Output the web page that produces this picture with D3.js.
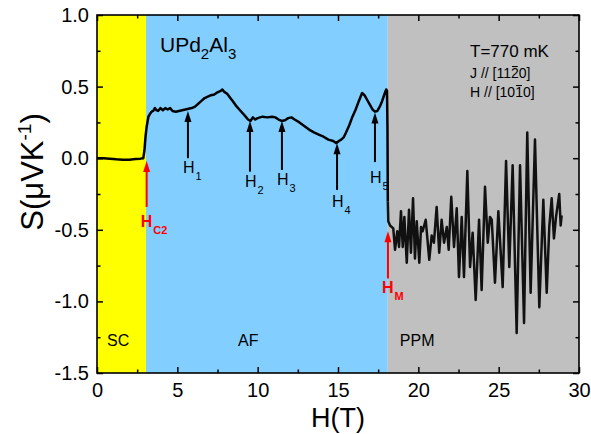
<!DOCTYPE html>
<html>
<head>
<meta charset="utf-8">
<script src="https://cdn.jsdelivr.net/npm/d3@7"></script>
<style>
body { margin: 0; background: #fff; }
text { font-family: Arial, 'Liberation Sans', sans-serif; fill: #000; }
</style>
</head>
<body>
<svg class="chart" width="591" height="434"></svg>
<script>
var width = 591;
var height = 434;
var plotLeft = 97;
var plotRight = 579;
var plotTop = 15;
var plotBottom = 373;

// Phase regions (field ranges in T)
var phaseNames = ['SC', 'AF', 'PPM'];
var phaseStart = [0, 3.05, 18.1];
var phaseEnd = [3.05, 18.1, 30];
var phaseColors = ['#ffff00', '#82cfff', '#c0c0c0'];

// Thermopower S (uV/K) vs field H (T)
var scData = [
    [0, 0.0], [0.4, 0.0], [0.8, -0.004], [1.2, -0.008], [1.6, -0.01], [2.0, -0.01],
    [2.4, -0.006], [2.7, -0.003], [2.88, 0.0], [2.95, 0.05], [3.02, 0.15], [3.09, 0.22]
];
var afData = [
    [3.2, 0.29], [3.3, 0.31], [3.4, 0.325], [3.5, 0.33], [3.6, 0.35], [3.7, 0.335], [3.8, 0.33], [3.95, 0.35],
    [4.1, 0.335], [4.25, 0.35], [4.4, 0.34], [4.55, 0.35], [4.7, 0.33], [4.9, 0.325],
    [5.1, 0.33], [5.3, 0.335], [5.5, 0.34], [5.7, 0.345], [5.9, 0.35], [6.1, 0.36],
    [6.3, 0.38], [6.5, 0.40], [6.7, 0.42], [6.9, 0.43], [7.1, 0.44], [7.3, 0.445],
    [7.5, 0.46], [7.7, 0.47], [7.8, 0.48], [7.9, 0.465], [8.1, 0.45], [8.3, 0.42],
    [8.5, 0.39], [8.7, 0.36], [8.9, 0.335], [9.1, 0.31], [9.25, 0.29], [9.4, 0.27],
    [9.55, 0.26], [9.7, 0.285], [9.85, 0.27], [10.0, 0.28], [10.3, 0.29], [10.6, 0.285],
    [10.9, 0.29], [11.1, 0.285], [11.3, 0.27], [11.5, 0.26], [11.7, 0.265], [11.9, 0.28],
    [12.1, 0.285], [12.3, 0.27], [12.6, 0.25], [12.9, 0.225], [13.2, 0.2], [13.5, 0.18],
    [13.8, 0.165], [14.1, 0.15], [14.4, 0.13], [14.7, 0.12], [14.9, 0.105], [15.05, 0.12],
    [15.2, 0.13], [15.35, 0.145], [15.5, 0.18], [15.7, 0.23], [15.9, 0.29], [16.1, 0.34],
    [16.3, 0.40], [16.5, 0.455], [16.65, 0.44], [16.8, 0.41], [17.0, 0.37], [17.15, 0.34],
    [17.3, 0.325], [17.45, 0.33], [17.6, 0.36], [17.75, 0.40], [17.9, 0.45], [18.0, 0.48],
    [18.05, 0.47], [18.08, 0.2], [18.1, -0.3]
];
var ppmData = [
    [18.13, -0.44], [18.24, -0.47], [18.44, -0.49], [18.55, -0.64], [18.69, -0.51], [18.80, -0.62],
    [18.92, -0.37], [19.03, -0.62], [19.13, -0.41], [19.28, -0.73], [19.42, -0.36], [19.54, -0.66],
    [19.67, -0.28], [19.79, -0.70], [19.90, -0.44], [20.06, -0.73], [20.17, -0.48], [20.27, -0.51],
    [20.46, -0.43], [20.68, -0.71], [20.83, -0.54], [20.97, -0.59], [21.14, -0.34], [21.30, -0.66],
    [21.45, -0.43], [21.60, -0.59], [21.77, -0.48], [21.89, -0.64], [22.05, -0.27], [22.22, -0.62],
    [22.39, -0.35], [22.53, -0.83], [22.70, -0.41], [22.84, -0.83], [23.05, -0.09], [23.22, -0.76],
    [23.38, -0.52], [23.57, -0.99], [23.78, -0.43], [23.94, -0.92], [24.15, -0.20], [24.32, -0.59],
    [24.46, -0.41], [24.57, -0.43], [24.77, -0.87], [24.98, -0.37], [25.25, -0.90], [25.46, -0.02],
    [25.66, -0.76], [25.87, -0.05], [26.12, -1.22], [26.33, -0.05], [26.58, -1.15], [26.78, 0.18],
    [26.99, -0.94], [27.26, 0.13], [27.53, -1.04], [27.78, -0.29], [27.99, -0.94], [28.15, -0.48],
    [28.30, -0.28], [28.44, -0.56], [28.57, -0.41], [28.77, -0.25], [28.86, -0.47], [28.92, -0.40]
];

// Transition markers H1..H5 (field, arrow tip S, arrow tail S, label baseline S)
var markNames = ['1', '2', '3', '4', '5'];
var markField = [5.66, 9.52, 11.51, 14.94, 17.3];
var markTip = [0.33, 0.26, 0.26, 0.105, 0.32];
var markTail = [0.0, -0.094, -0.082, -0.222, -0.027];
var markLabel = [-0.105, -0.199, -0.187, -0.343, -0.175];

// Critical fields Hc2 and Hm (red arrows)
var critNames = ['C2', 'M'];
var critField = [3.09, 18.11];
var critTip = [-0.02, -0.51];
var critTail = [-0.34, -0.84];
var critLabel = [-0.478, -0.943];

var xTicks = [0, 5, 10, 15, 20, 25, 30];
var xMinor = [2.5, 7.5, 12.5, 17.5, 22.5, 27.5];
var yTicks = [-1.5, -1.0, -0.5, 0.0, 0.5, 1.0];
var yMinor = [-1.25, -0.75, -0.25, 0.25, 0.75];

var xScale = d3.scaleLinear().domain([0, 30]).range([plotLeft, plotRight]);
var yScale = d3.scaleLinear().domain([-1.5, 1.0]).range([plotBottom, plotTop]);

var svg = d3.select('.chart');

/* Phase backgrounds */
function drawPhases() {
    var g = svg.append('g');
    g.selectAll('rect')
        .data(phaseNames)
        .join('rect')
        .attr('x', function(d, i) { return xScale(phaseStart[i]); })
        .attr('y', yScale(1.0))
        .attr('width', function(d, i) { return xScale(phaseEnd[i]) - xScale(phaseStart[i]); })
        .attr('height', yScale(-1.5) - yScale(1.0))
        .style('fill', function(d, i) { return phaseColors[i]; });

    g.selectAll('text')
        .data(phaseNames)
        .join('text')
        .attr('x', function(d, i) { return xScale(phaseStart[i]) + [10, 92, 12][i]; })
        .attr('y', yScale(-1.31))
        .style('font-size', '16px')
        .text(function(d) { return d; });
}

/* Axes */
function drawAxes() {
    var fmt = function(d) { return d.toFixed(1); };
    var major = 6, minor = 3.5;

    svg.append('g').attr('transform', 'translate(0,' + plotBottom + ')')
        .call(d3.axisBottom(xScale).tickValues(xTicks).tickSize(-major).tickPadding(10));
    svg.append('g').attr('transform', 'translate(0,' + plotBottom + ')')
        .call(d3.axisBottom(xScale).tickValues(xMinor).tickSize(-minor).tickFormat(''));
    svg.append('g').attr('transform', 'translate(0,' + plotTop + ')')
        .call(d3.axisTop(xScale).tickValues(xTicks).tickSize(-major).tickFormat(''));
    svg.append('g').attr('transform', 'translate(0,' + plotTop + ')')
        .call(d3.axisTop(xScale).tickValues(xMinor).tickSize(-minor).tickFormat(''));

    svg.append('g').attr('transform', 'translate(' + plotLeft + ',0)')
        .call(d3.axisLeft(yScale).tickValues(yTicks).tickSize(-major).tickPadding(8).tickFormat(fmt));
    svg.append('g').attr('transform', 'translate(' + plotLeft + ',0)')
        .call(d3.axisLeft(yScale).tickValues(yMinor).tickSize(-minor).tickFormat(''));
    svg.append('g').attr('transform', 'translate(' + plotRight + ',0)')
        .call(d3.axisRight(yScale).tickValues(yTicks).tickSize(-major).tickFormat(''));
    svg.append('g').attr('transform', 'translate(' + plotRight + ',0)')
        .call(d3.axisRight(yScale).tickValues(yMinor).tickSize(-minor).tickFormat(''));

    svg.selectAll('.domain').remove();
    svg.selectAll('.tick line').style('stroke', '#000').style('stroke-width', 1.5);
    svg.selectAll('.tick text')
        .style('font-size', '20px')
        .style('font-family', "Arial, 'Liberation Sans', sans-serif")
        .style('fill', '#000');

    svg.append('rect')
        .attr('x', plotLeft)
        .attr('y', plotTop)
        .attr('width', plotRight - plotLeft)
        .attr('height', plotBottom - plotTop)
        .style('fill', 'none')
        .style('stroke', '#000')
        .style('stroke-width', 1.6);

    // Axis titles
    svg.append('text')
        .attr('x', (plotLeft + plotRight) / 2)
        .attr('y', 427)
        .style('text-anchor', 'middle')
        .style('font-size', '27px')
        .text('H(T)');

    var yt = svg.append('text')
        .attr('transform', 'translate(43,172) rotate(-90)')
        .style('text-anchor', 'middle')
        .style('font-size', '31px');
    yt.append('tspan').text('S(\u03bcVK');
    yt.append('tspan').attr('dy', -12).style('font-size', '19px').text('-1');
    yt.append('tspan').attr('dy', 12).text(')');
}

/* Curve */
function drawCurve() {
    var line = d3.line()
        .x(function(d) { return xScale(d[0]); })
        .y(function(d) { return yScale(d[1]); });

    svg.append('path')
        .datum(scData.concat(afData))
        .attr('d', line)
        .style('fill', 'none')
        .style('stroke', '#000')
        .style('stroke-width', 2.5)
        .style('stroke-linejoin', 'round');

    svg.append('path')
        .datum(afData.slice(-1).concat(ppmData))
        .attr('d', line)
        .style('fill', 'none')
        .style('stroke', '#111')
        .style('stroke-width', 2.5)
        .style('stroke-linejoin', 'round');
}

/* Arrows */
function arrow(g, h, tipS, tailS, color) {
    var x = xScale(h), yTip = yScale(tipS), yTail = yScale(tailS);
    var headLen = 11, headHalf = 3.5;
    g.append('line')
        .attr('x1', x).attr('x2', x)
        .attr('y1', yTail).attr('y2', yTip + headLen - 1)
        .style('stroke', color)
        .style('stroke-width', 2);
    g.append('path')
        .attr('d', 'M' + x + ',' + yTip + 'L' + (x - headHalf) + ',' + (yTip + headLen) +
            'L' + (x + headHalf) + ',' + (yTip + headLen) + 'Z')
        .style('fill', color);
}

function drawMarkers() {
    var g = svg.append('g');
    markNames.forEach(function(name, i) {
        arrow(g, markField[i], markTip[i], markTail[i], '#000');
        var t = g.append('text')
            .attr('x', xScale(markField[i]) - 5)
            .attr('y', yScale(markLabel[i]))
            .style('font-size', '16px');
        t.append('tspan').text('H');
        t.append('tspan').attr('dy', 7).attr('dx', 1).style('font-size', '11px').text(name);
    });

    critNames.forEach(function(name, i) {
        arrow(g, critField[i], critTip[i], critTail[i], '#ff0000');
        var t = g.append('text')
            .attr('x', xScale(critField[i]) - 6)
            .attr('y', yScale(critLabel[i]))
            .style('font-size', '16px')
            .style('font-weight', 'bold')
            .style('fill', '#ff0000');
        t.append('tspan').style('fill', '#ff0000').text('H');
        t.append('tspan').attr('dy', 7).attr('dx', 1).style('fill', '#ff0000')
            .style('font-size', '11px').text(name);
    });
}

/* Text annotations */
function overbar(textNode, index, size) {
    var box = textNode.getExtentOfChar(index);
    var base = +d3.select(textNode).attr('y');
    svg.append('line')
        .attr('x1', box.x + 1).attr('x2', box.x + box.width - 1)
        .attr('y1', base - size * 0.82).attr('y2', base - size * 0.82)
        .style('stroke', '#000')
        .style('stroke-width', 1.1);
}

function drawLabels() {
    var m = svg.append('text')
        .attr('x', 160)
        .attr('y', 52)
        .style('font-size', '21px');
    m.append('tspan').text('UPd');
    m.append('tspan').attr('dy', 7).style('font-size', '15px').text('2');
    m.append('tspan').attr('dy', -7).text('Al');
    m.append('tspan').attr('dy', 7).style('font-size', '15px').text('3');

    svg.append('text')
        .attr('x', 470)
        .attr('y', 57)
        .style('font-size', '17px')
        .text('T=770 mK');

    var j = svg.append('text')
        .attr('x', 470)
        .attr('y', 78)
        .style('font-size', '14px')
        .text('J // [1120]');
    overbar(j.node(), 8, 14);

    var h = svg.append('text')
        .attr('x', 470)
        .attr('y', 97)
        .style('font-size', '14px')
        .text('H // [1010]');
    overbar(h.node(), 8, 14);
}

drawPhases();
drawCurve();
drawAxes();
drawMarkers();
drawLabels();
</script>
</body>
</html>
